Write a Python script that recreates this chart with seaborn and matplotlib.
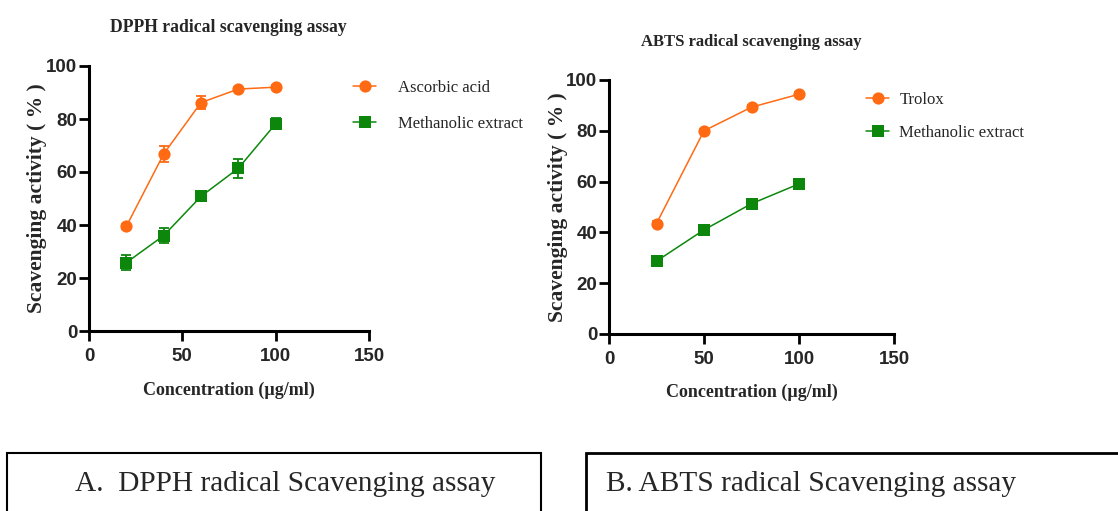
import numpy as np
import pandas as pd
import matplotlib
matplotlib.use("Agg")
import matplotlib.pyplot as plt
from matplotlib.patches import Rectangle
import seaborn as sns

# ---- data ----
dpph_conc = [20, 40, 60, 80, 100]
dpph_ascorbic = [39.5, 66.8, 86.2, 91.3, 92.0]
dpph_ascorbic_err = [1.0, 3.0, 2.3, 0.8, 0.8]
dpph_extract = [25.8, 36.0, 50.8, 61.4, 78.2]
dpph_extract_err = [2.7, 2.9, 1.0, 3.5, 2.0]

abts_conc = [25, 50, 75, 100]
abts_trolox = [43.5, 80.0, 89.3, 94.4]
abts_trolox_err = [0.8, 0.8, 0.8, 0.8]
abts_extract = [28.7, 41.0, 51.3, 59.1]
abts_extract_err = [1.0, 2.0, 1.5, 1.5]

x_ticks = [0, 50, 100, 150]
y_ticks = [0, 20, 40, 60, 80, 100]

ORANGE = "#FF6A13"
GREEN = "#0C870C"

sns.set_style("ticks")
plt.rcParams["font.family"] = ["Liberation Serif", "DejaVu Serif"]

W, H = 1118, 511
fig = plt.figure(figsize=(W / 100, H / 100), dpi=100)


def ax_rect(x0, x1, y_top, y_bot):
    return [x0 / W, 1 - y_bot / H, (x1 - x0) / W, (y_bot - y_top) / H]


tick_font = dict(family=["Liberation Sans", "DejaVu Sans"], weight="bold", size=13.5)


def draw_panel(ax, conc, s1, e1, lab1, s2, e2, lab2, title, title_xy, title_size,
               ylab_x, xlab_y, leg_anchor, leg_pad, leg_spacing):
    for vals, errs, col, mk, ms, lab in [(s1, e1, ORANGE, "o", 8.8, lab1),
                                           (s2, e2, GREEN, "s", 8.2, lab2)]:
        ax.errorbar(conc, vals, yerr=errs, fmt="none", ecolor=col, elinewidth=1.3,
                    capsize=3.5, capthick=1.3, zorder=2)
        sns.lineplot(x=conc, y=vals, ax=ax, color=col, marker=mk, markersize=ms,
                     markeredgewidth=0, linewidth=1.1, label=lab, zorder=3)
    ax.set_xlim(0, 150)
    ax.set_ylim(0, 100)
    ax.set_xticks(x_ticks)
    ax.set_yticks(y_ticks)
    ax.set_xticklabels([str(t) for t in x_ticks], fontdict=tick_font)
    ax.set_yticklabels([str(t) for t in y_ticks], fontdict=tick_font)
    sns.despine(ax=ax)
    for sp in ["left", "bottom"]:
        ax.spines[sp].set_linewidth(2.2)
        ax.spines[sp].set_color("black")
    ax.tick_params(axis="both", direction="out", length=7.5, width=2.0, color="black")
    ax.tick_params(axis="x", pad=5)
    ax.tick_params(axis="y", pad=1)
    ax.set_ylabel("Scavenging activity ( % )", fontsize=15.5, fontweight="bold")
    ax.yaxis.set_label_coords(ylab_x, 0.5)
    ax.set_xlabel("Concentration (µg/ml)", fontsize=13, fontweight="bold")
    ax.xaxis.set_label_coords(0.5, xlab_y)
    ax.legend(loc="upper left", bbox_to_anchor=(leg_anchor[0] / W, 1 - leg_anchor[1] / H),
              bbox_transform=fig.transFigure, frameon=False, borderpad=0, borderaxespad=0,
              handlelength=1.4, handletextpad=leg_pad, labelspacing=leg_spacing,
              prop=dict(family="Liberation Serif", size=12))
    fig.text(title_xy[0] / W, 1 - title_xy[1] / H, title, ha="center", va="center",
             fontsize=title_size, fontweight="bold")


ax1 = fig.add_axes(ax_rect(89, 369, 66, 331))
draw_panel(ax1, dpph_conc, dpph_ascorbic, dpph_ascorbic_err, "Ascorbic acid",
           dpph_extract, dpph_extract_err, "Methanolic extract",
           "DPPH radical scavenging assay", (228, 28), 12.7,
           -0.15, -0.19, (353, 80), 1.3, 1.2)

ax2 = fig.add_axes(ax_rect(609, 894, 80, 334))
draw_panel(ax2, abts_conc, abts_trolox, abts_trolox_err, "Trolox",
           abts_extract, abts_extract_err, "Methanolic extract",
           "ABTS radical scavenging assay", (751, 42), 12.0,
           -0.144, -0.195, (866, 92), 0.6, 1.0)

# bottom caption boxes
fig.add_artist(Rectangle((7 / W, -0.05), (541 - 7) / W, (1 - 453 / H) + 0.05,
                         transform=fig.transFigure, fill=False, edgecolor="black",
                         linewidth=1.5, clip_on=False))
fig.add_artist(Rectangle((586 / W, -0.05), (1118 - 586) / W + 0.05, (1 - 453 / H) + 0.05,
                         transform=fig.transFigure, fill=False, edgecolor="black",
                         linewidth=2.0, clip_on=False))
fig.text(75 / W, 1 - 484 / H, "A.  DPPH radical Scavenging assay", ha="left", va="center",
         fontsize=21.2, family="Liberation Serif")
fig.text(606 / W, 1 - 484 / H, "B. ABTS radical Scavenging assay", ha="left", va="center",
         fontsize=21.2, family="Liberation Serif")

fig.savefig("out.png", dpi=100)
